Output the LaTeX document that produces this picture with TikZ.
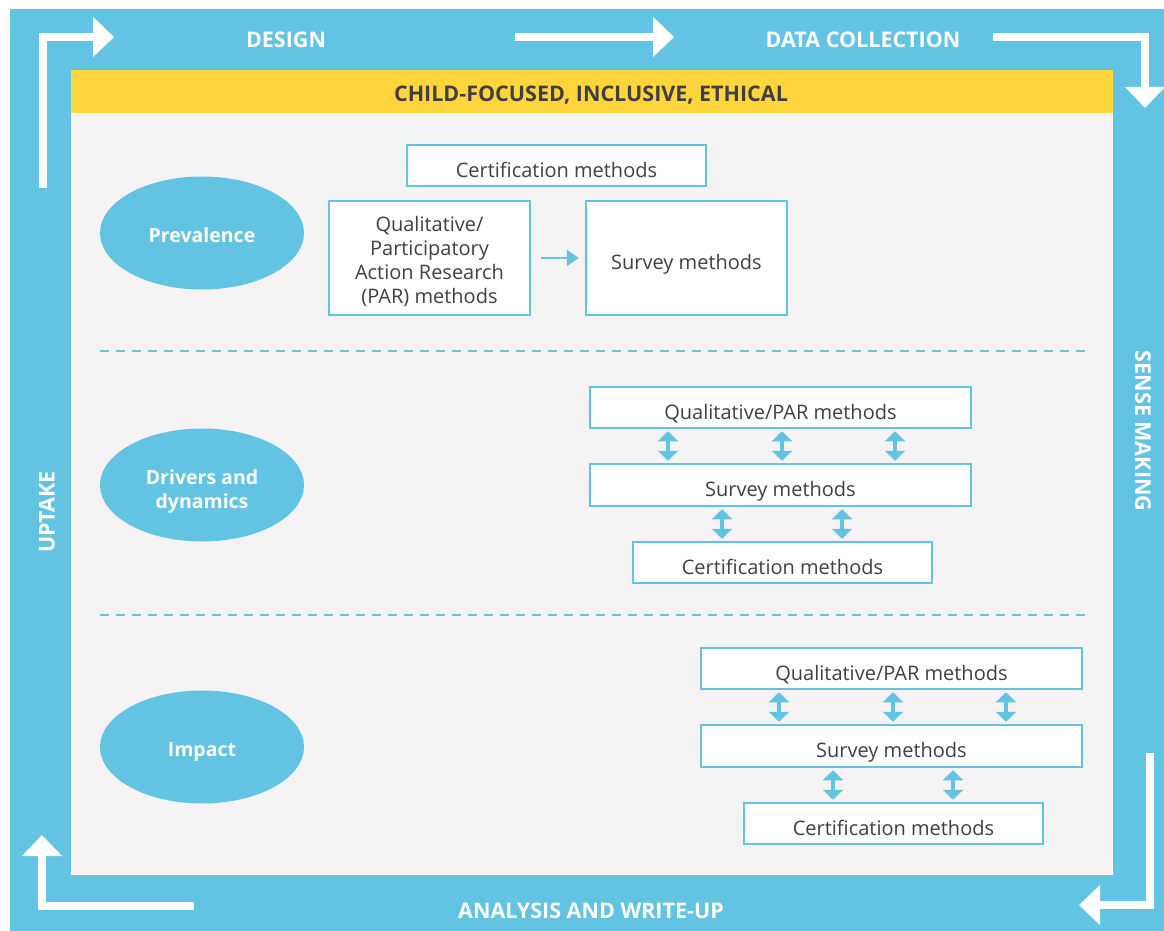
\documentclass[tikz,border=0pt]{standalone}
\usepackage{fontspec}
\setmainfont{Open Sans}
\usetikzlibrary{arrows.meta,shapes.geometric}
\definecolor{fblue}{HTML}{62C3E2}
\definecolor{fyellow}{HTML}{FFD53E}
\definecolor{fbg}{HTML}{F5F3F4}
\definecolor{ftext}{HTML}{404040}
\tikzset{
  methodbox/.style={draw=fblue, line width=2.5pt, fill=white, text=ftext, inner sep=0pt, align=center,
    font=\fontsize{20}{24.3}\selectfont},
  oneline/.style={text height=23pt, text depth=0pt},
  topicoval/.style={ellipse, fill=fblue, text=white, font=\fontsize{19.5}{24}\selectfont\bfseries, align=center,
    minimum width=204pt, minimum height=113pt, inner sep=0pt},
  cyclelabel/.style={text=white, font=\fontsize{21.5}{25}\selectfont\bfseries},
  cyclearrow/.style={draw=white, line width=8pt, line join=miter, -{Triangle[width=39pt,length=21pt]}},
  dblarrow/.style={draw=fblue, line width=4pt, shorten <=2pt, shorten >=2pt,
    {Triangle[width=20pt,length=10pt]}-{Triangle[width=20pt,length=10pt]}},
  onearrow/.style={draw=fblue, line width=2.5pt, -{Triangle[width=16pt,length=12pt]}},
  sepline/.style={draw=fblue, line width=2pt, dash pattern=on 9pt off 7pt},
}
\begin{document}
\begin{tikzpicture}[x=1pt,y=-1pt]
\useasboundingbox (0,0) rectangle (1164,931);
\fill[white] (0,0) rectangle (1164,931);
\fill[fblue] (10,9) rectangle (1164,931);
\fill[fbg] (71,113) rectangle (1113,875);
\fill[fyellow] (71,70) rectangle (1113,113);
\node[text=ftext, font=\fontsize{21.5}{25}\selectfont\bfseries, text height=20pt, text depth=0pt] (banner) at (591,92) {CHILD-FOCUSED, INCLUSIVE, ETHICAL};

% cycle arrows
\draw[cyclearrow] (43,188) -- (43,37) -- (114,37);
\draw[cyclearrow] (515,37) -- (674,37);
\draw[cyclearrow] (993,37) -- (1145,37) -- (1145,108);
\draw[cyclearrow] (1150,753) -- (1150,905) -- (1079,905);
\draw[cyclearrow] (194,906) -- (42,906) -- (42,835);

\node[cyclelabel] (design) at (286,40) {DESIGN};
\node[cyclelabel] (datacoll) at (863,40) {DATA COLLECTION};
\node[cyclelabel, rotate=-90] (sense) at (1143,431) {SENSE MAKING};
\node[cyclelabel, rotate=90] (uptake) at (47,512) {UPTAKE};
\node[cyclelabel] (analysis) at (591,911) {ANALYSIS AND WRITE-UP};

% separators
\draw[sepline] (100,351) -- (1085,351);
\draw[sepline] (100,615) -- (1085,615);

% topics
\node[topicoval, text height=18pt, text depth=0pt] (prev) at (202,233) {Prevalence};
\node[topicoval, text height=0pt, text depth=2pt] (driv) at (202,485) {\begin{tabular}[t]{@{}c@{}}Drivers and\\dynamics\end{tabular}};
\node[topicoval, text height=18pt, text depth=0pt] (imp) at (202,747) {Impact};

% prevalence
\node[methodbox, oneline, minimum width=299pt, minimum height=41pt] (pc) at (556.5,165.5) {Certification methods};
\node[methodbox, text height=0pt, text depth=54pt, minimum width=201pt, minimum height=114pt] (pq) at (429.5,258)
  {\begin{tabular}[t]{@{}c@{}}Qualitative/\\Participatory\\Action Research\\(PAR) methods\end{tabular}};
\node[methodbox, oneline, minimum width=201pt, minimum height=114pt] (ps) at (686.5,258) {Survey methods};
\draw[onearrow] ([xshift=10pt]pq.east) -- ([xshift=-6pt]ps.west);

% drivers
\node[methodbox, oneline, minimum width=381pt, minimum height=41pt] (dq) at (780.5,407.5) {Qualitative/PAR methods};
\node[methodbox, oneline, minimum width=381pt, minimum height=42pt] (ds) at (780.5,485) {Survey methods};
\node[methodbox, oneline, minimum width=299pt, minimum height=41pt] (dc) at (782.5,562.5) {Certification methods};
\foreach \dx [count=\i] in {-112.5,1.5,114.5} {
  \coordinate (dqa\i) at ([xshift=\dx pt]dq.south);
  \draw[dblarrow] (dqa\i) -- (dqa\i |- ds.north);
}
\foreach \dx [count=\i] in {-58.5,61.5} {
  \coordinate (dsa\i) at ([xshift=\dx pt]ds.south);
  \draw[dblarrow] (dsa\i) -- (dsa\i |- dc.north);
}

% impact
\node[methodbox, oneline, minimum width=381pt, minimum height=41pt] (iq) at (891.5,668.5) {Qualitative/PAR methods};
\node[methodbox, oneline, minimum width=381pt, minimum height=42pt] (is) at (891.5,746) {Survey methods};
\node[methodbox, oneline, minimum width=299pt, minimum height=41pt] (ic) at (893.5,823.5) {Certification methods};
\foreach \dx [count=\i] in {-112.5,1.5,114.5} {
  \coordinate (iqa\i) at ([xshift=\dx pt]iq.south);
  \draw[dblarrow] (iqa\i) -- (iqa\i |- is.north);
}
\foreach \dx [count=\i] in {-58.5,61.5} {
  \coordinate (isa\i) at ([xshift=\dx pt]is.south);
  \draw[dblarrow] (isa\i) -- (isa\i |- ic.north);
}
\end{tikzpicture}
\end{document}
